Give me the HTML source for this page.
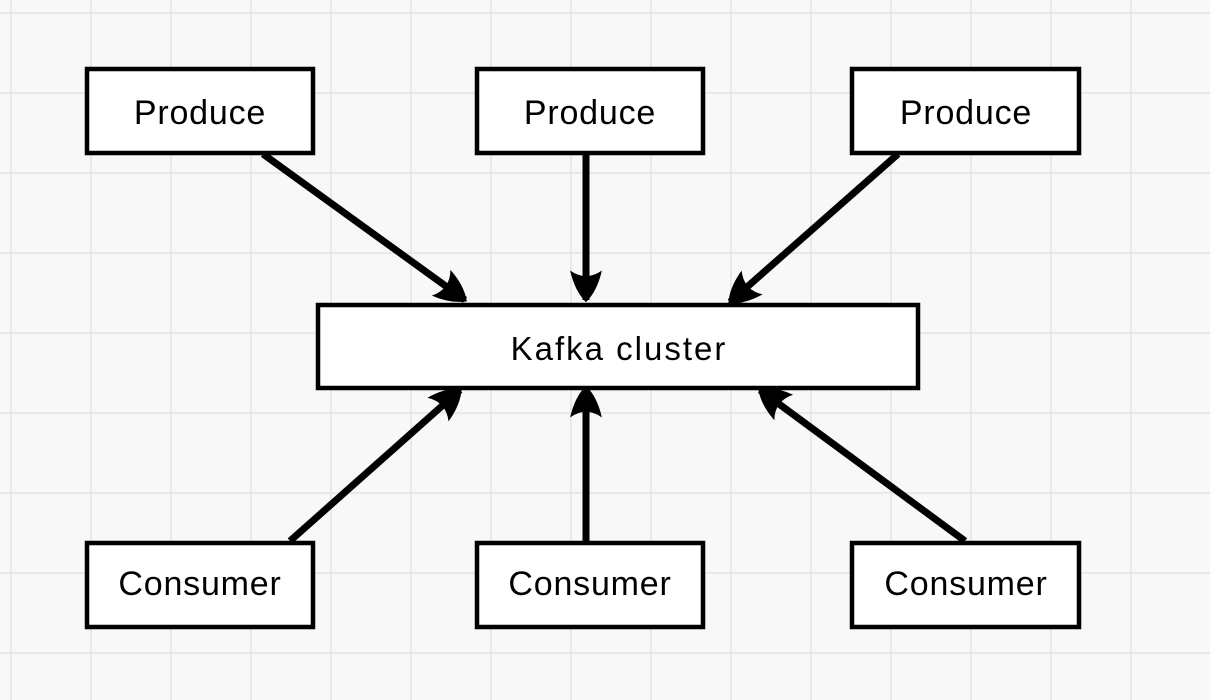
<!DOCTYPE html>
<html><head><meta charset="utf-8"><style>
html,body{margin:0;padding:0;width:1210px;height:700px;overflow:hidden;background:#f8f8f8}
svg{display:block}
text{font-family:"Liberation Sans",sans-serif;fill:#000}
</style></head><body>
<svg width="1210" height="700" viewBox="0 0 1210 700">
<defs>
<pattern id="g" x="10" y="12" width="80" height="80" patternUnits="userSpaceOnUse">
<path d="M0 0H80M0 0V80" stroke="#e8e8e8" stroke-width="4" fill="none"/>
</pattern>
<marker id="a" markerUnits="userSpaceOnUse" markerWidth="34" markerHeight="34" viewBox="0 0 30 30" refX="26" refY="15" orient="auto">
<path d="M0,1 Q18,5 28,15 Q18,25 0,29 Q10,15 0,1 Z" fill="#000"/>
</marker>
</defs>
<rect width="1210" height="700" fill="#f8f8f8"/>
<rect x="0" y="0" width="1210" height="700" fill="url(#g)"/>
<g stroke="#000" stroke-width="7" fill="none" marker-end="url(#a)">
<line x1="263" y1="154" x2="465" y2="300"/>
<line x1="586" y1="155" x2="586" y2="300"/>
<line x1="898" y1="154" x2="730" y2="302"/>
<line x1="290" y1="541" x2="460" y2="390"/>
<line x1="586" y1="541" x2="586" y2="388"/>
<line x1="965" y1="541" x2="760" y2="390"/>
</g>
<g fill="#fff" stroke="#000" stroke-width="4.5">
<rect x="87" y="69" width="226" height="84"/>
<rect x="477" y="69" width="226" height="84"/>
<rect x="852" y="69" width="227" height="84"/>
<rect x="318" y="305" width="600" height="83"/>
<rect x="87" y="543" width="226" height="84"/>
<rect x="477" y="543" width="226" height="84"/>
<rect x="852" y="543" width="227" height="84"/>
</g>
<g font-size="34" text-anchor="middle" letter-spacing="0.8">
<text x="200" y="124">Produce</text>
<text x="590" y="124">Produce</text>
<text x="966" y="124">Produce</text>
<text x="619" y="360" font-size="33" letter-spacing="2">Kafka cluster</text>
<text x="200" y="595">Consumer</text>
<text x="590" y="595">Consumer</text>
<text x="966" y="595">Consumer</text>
</g>
</svg>
</body></html>
